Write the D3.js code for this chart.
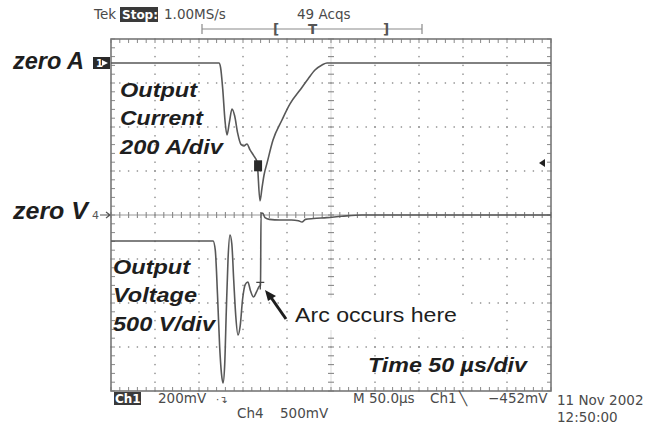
<!DOCTYPE html>
<html>
<head>
<meta charset="utf-8">
<script src="https://cdn.jsdelivr.net/npm/d3@7"></script>
<style>
  body { margin: 0; background: #fff; }
  svg { display: block; }
</style>
</head>
<body>
<svg id="scope" width="660" height="426"></svg>
<script>
// time axis, microseconds (50 us/div, 10 divs)
var timeTicks = [0, 50, 100, 150, 200, 250, 300, 350, 400, 450, 500];

// Output current trace (A), ch1, 200 A/div
var curT = [0, 122.7, 124.5, 127, 129.5, 131.8, 134.5, 137.5, 140.5, 144, 147.7, 151, 154.5, 158, 162, 166, 169.3,
            171.6, 173.9, 177.3, 184.1, 194.3, 203.4, 214.8, 223.9, 231.8, 239.8, 245.5, 500];
var curA = [0, 0, -20, -120, -260, -327, -270, -209, -240, -320, -370, -377, -368, -395, -420, -450, -627,
            -568, -509, -455, -350, -259, -186, -123, -73, -32, -9, 0, 0];

// Output voltage trace (V), ch4, 500 V/div
var volT = [0, 116, 118.5, 121, 123.5, 125.5, 127.3, 129.2, 131, 133, 135.2, 137.3, 139.5, 141.8, 144.3, 146.8,
            149.5, 152.5, 155.5, 158.5, 162, 165.5, 168.5, 169.9, 170.5, 172.5, 175, 180, 192, 205, 213, 217,
            221, 230, 245, 262, 285, 500];
var volV = [-295, -295, -400, -900, -1500, -1800, -1909, -1700, -1100, -500, -227, -330, -750, -1150, -1364, -1260,
            -960, -790, -761, -860, -932, -870, -810, -800, 23, 20, -30, -50, -57, -57, -65, -80,
            -50, -40, -30, -15, 0, 0];

// arc instant (us) and current cursor
var arcT = 168.5, arcV = -800;
var curCursorT = 166, curCursorA = -465;

var svg = d3.select("#scope");
var pLeft = 111, pTop = 39, w = 440, h = 352, div = 44;

var x = d3.scaleLinear().domain([0, 500]).range([pLeft, pLeft + w]);
// zero A sits 24px under the top edge, zero V on the centre line
var yCur = d3.scaleLinear().domain([0, -200]).range([63, 63 + div]);
var yVol = d3.scaleLinear().domain([0, -500]).range([pTop + h / 2, pTop + h / 2 + div]);
var yDiv = d3.scaleLinear().domain([0, 8]).range([pTop, pTop + h]);

var grid = svg.append("g");
var minor = d3.range(0, w + 0.1, div / 5);
var minorV = d3.range(0, h + 0.1, div / 5);

// dotted vertical grid lines
timeTicks.slice(1, -1).forEach(function(t) {
    if (t === 250) return;
    grid.selectAll(null)
        .data(minorV)
        .enter().append("rect")
        .attr("x", x(t) - 0.7).attr("y", function(d) { return pTop + d - 0.7; })
        .attr("width", 1.4).attr("height", 1.4)
        .attr("fill", "#8a8a8a");
});
// dotted horizontal grid lines
d3.range(1, 8).forEach(function(k) {
    if (k === 4) return;
    grid.selectAll(null)
        .data(minor)
        .enter().append("rect")
        .attr("x", function(d) { return pLeft + d - 0.7; }).attr("y", yDiv(k) - 0.7)
        .attr("width", 1.4).attr("height", 1.4)
        .attr("fill", "#8a8a8a");
});

// centre cross with ticks
var cx = x(250), cy = yDiv(4);
grid.append("line").attr("x1", pLeft).attr("x2", pLeft + w).attr("y1", cy).attr("y2", cy)
    .attr("stroke", "#9a9a9a").attr("stroke-width", 1);
grid.append("line").attr("x1", cx).attr("x2", cx).attr("y1", pTop).attr("y2", pTop + h)
    .attr("stroke", "#c8c8c8").attr("stroke-width", 0.6);
grid.selectAll(null).data(minor).enter().append("line")
    .attr("x1", function(d) { return pLeft + d; }).attr("x2", function(d) { return pLeft + d; })
    .attr("y1", cy - 3).attr("y2", cy + 3)
    .attr("stroke", "#888").attr("stroke-width", 1.1);
grid.selectAll(null).data(minorV).enter().append("line")
    .attr("y1", function(d) { return pTop + d; }).attr("y2", function(d) { return pTop + d; })
    .attr("x1", cx - 3).attr("x2", cx + 3)
    .attr("stroke", "#888").attr("stroke-width", 1.1);

// border ticks
grid.selectAll(null).data(minor).enter().append("line")
    .attr("x1", function(d) { return pLeft + d; }).attr("x2", function(d) { return pLeft + d; })
    .attr("y1", pTop).attr("y2", pTop + 4)
    .attr("stroke", "#888").attr("stroke-width", 1);
grid.selectAll(null).data(minor).enter().append("line")
    .attr("x1", function(d) { return pLeft + d; }).attr("x2", function(d) { return pLeft + d; })
    .attr("y1", pTop + h - 4).attr("y2", pTop + h)
    .attr("stroke", "#888").attr("stroke-width", 1);
grid.selectAll(null).data(minorV).enter().append("line")
    .attr("y1", function(d) { return pTop + d; }).attr("y2", function(d) { return pTop + d; })
    .attr("x1", pLeft).attr("x2", pLeft + 4)
    .attr("stroke", "#888").attr("stroke-width", 1);
grid.selectAll(null).data(minorV).enter().append("line")
    .attr("y1", function(d) { return pTop + d; }).attr("y2", function(d) { return pTop + d; })
    .attr("x1", pLeft + w - 4).attr("x2", pLeft + w)
    .attr("stroke", "#888").attr("stroke-width", 1);

grid.append("rect").attr("x", pLeft).attr("y", pTop).attr("width", w).attr("height", h)
    .attr("fill", "none").attr("stroke", "#777").attr("stroke-width", 1.6);

// arc annotation background (hides grid dots like the original)
svg.append("rect").attr("x", 289).attr("y", 298).attr("width", 176).attr("height", 32).attr("fill", "#fff");

// traces
var curve = d3.curveMonotoneX;
var curLine = d3.line().x(function(d) { return x(d[0]); }).y(function(d) { return yCur(d[1]); }).curve(curve);
var volLine = d3.line().x(function(d) { return x(d[0]); }).y(function(d) { return yVol(d[1]); }).curve(curve);

svg.append("path")
    .datum(d3.zip(curT, curA))
    .attr("d", curLine)
    .attr("fill", "none").attr("stroke", "#585858").attr("stroke-width", 1.6);
svg.append("path")
    .datum(d3.zip(volT, volV))
    .attr("d", volLine)
    .attr("fill", "none").attr("stroke", "#585858").attr("stroke-width", 1.6);

// cursor marker on current trace
svg.append("rect")
    .attr("x", x(curCursorT) - 3).attr("y", yCur(curCursorA) - 5)
    .attr("width", 8).attr("height", 11).attr("fill", "#2a2a2a");
// small T cursor at arc point
var ax = x(arcT) + 1, ay = yVol(arcV);
svg.append("path")
    .attr("d", "M" + (ax - 4) + "," + (ay - 3) + "H" + (ax + 4) + "M" + ax + "," + (ay - 3) + "V" + (ay + 4))
    .attr("stroke", "#444").attr("stroke-width", 1.3).attr("fill", "none");

// channel ground markers on left
var m1 = svg.append("g").attr("transform", "translate(93," + (yCur(0) - 6) + ")");
m1.append("rect").attr("width", 17).attr("height", 12).attr("fill", "#2a2a2a");
m1.append("text").attr("x", 3).attr("y", 10).text("1")
    .style("font-family", "DejaVu Sans").style("font-size", "10px").style("font-weight", "bold").attr("fill", "#fff");
m1.append("path").attr("d", "M9,3 L15,6 L9,9 Z").attr("fill", "#fff");

var m4 = svg.append("g").attr("transform", "translate(92," + cy + ")");
m4.append("text").attr("x", 0).attr("y", 4).text("4")
    .style("font-family", "DejaVu Sans").style("font-size", "11px").attr("fill", "#555");
m4.append("path").attr("d", "M8,0 H18 M14,-3 L18,0 L14,3").attr("stroke", "#555").attr("stroke-width", 1.2).attr("fill", "none");

// trigger level marker on right
svg.append("path").attr("d", "M539,163 L545,159 L545,167 Z").attr("fill", "#222");

// big annotation labels, widths matched to the reference
var big = function(px, py, s, size, len) {
    return svg.append("text").attr("x", px).attr("y", py).text(s)
        .attr("textLength", len).attr("lengthAdjust", "spacingAndGlyphs")
        .style("font-family", "Liberation Sans, Arial, sans-serif").style("font-size", size + "px")
        .style("font-weight", "bold").style("font-style", "italic").attr("fill", "#1e1e1e");
};
big(13, 69, "zero A", 23, 71);
big(13, 219, "zero V", 23, 75);

var curLabels = ["Output", "Current", "200 A/div"], curLens = [77, 83, 103];
curLabels.forEach(function(s, i) { big(120, 97 + i * 28.3, s, 21, curLens[i]); });
var volLabels = ["Output", "Voltage", "500 V/div"], volLens = [77, 84, 102];
volLabels.forEach(function(s, i) { big(113, 274 + i * 28.3, s, 21, volLens[i]); });
big(368, 372, "Time 50 \u00b5s/div", 21, 159);

// arc annotation
svg.append("text").attr("x", 295).attr("y", 322).text("Arc occurs here")
    .attr("textLength", 162).attr("lengthAdjust", "spacingAndGlyphs")
    .style("font-family", "Liberation Sans, Arial, sans-serif").style("font-size", "21px").attr("fill", "#1e1e1e");
svg.append("line").attr("x1", 286).attr("y1", 319).attr("x2", 270).attr("y2", 296)
    .attr("stroke", "#1e1e1e").attr("stroke-width", 3);
svg.append("path").attr("d", "M265,290 L276,296 L268,301 Z").attr("fill", "#1e1e1e");

// scope readouts
var small = function(px, py, s) {
    return svg.append("text").attr("x", px).attr("y", py).text(s)
        .style("font-family", "DejaVu Sans, sans-serif").style("font-size", "13.5px")
        .attr("fill", "#4a4a4a");
};
small(94, 19, "Tek");
svg.append("rect").attr("x", 120).attr("y", 7).attr("width", 38).attr("height", 15).attr("fill", "#3a3a3a");
small(122, 19, "Stop:").attr("fill", "#fff").style("font-weight", "bold").style("font-size", "12px");
small(164, 19, "1.00MS/s");
small(297, 19, "49 Acqs");

// record bracket
svg.append("path").attr("d", "M202,24 V34 M202,29 H422 M422,24 V34")
    .attr("stroke", "#8a8a8a").attr("stroke-width", 1.2).attr("fill", "none");
[["[", 273], ["T", 308], ["]", 383]].forEach(function(b) {
    small(b[1], 34, b[0]).style("font-weight", "bold").attr("fill", "#555");
});

svg.append("rect").attr("x", 114).attr("y", 392).attr("width", 27).attr("height", 13).attr("fill", "#3a3a3a");
small(115, 403, "Ch1").attr("fill", "#fff").style("font-weight", "bold").style("font-size", "12px");
small(158, 403, "200mV");
small(216, 403, "\u00b7\u21b4").style("font-size", "10px");
small(237, 418, "Ch4");
small(280, 418, "500mV");
small(353, 403, "M 50.0\u00b5s");
small(430, 403, "Ch1");
small(459, 403, "\u2572");
small(488, 403, "\u2212452mV");
small(557, 405, "11 Nov 2002");
small(557, 422, "12:50:00");
</script>
</body>
</html>
